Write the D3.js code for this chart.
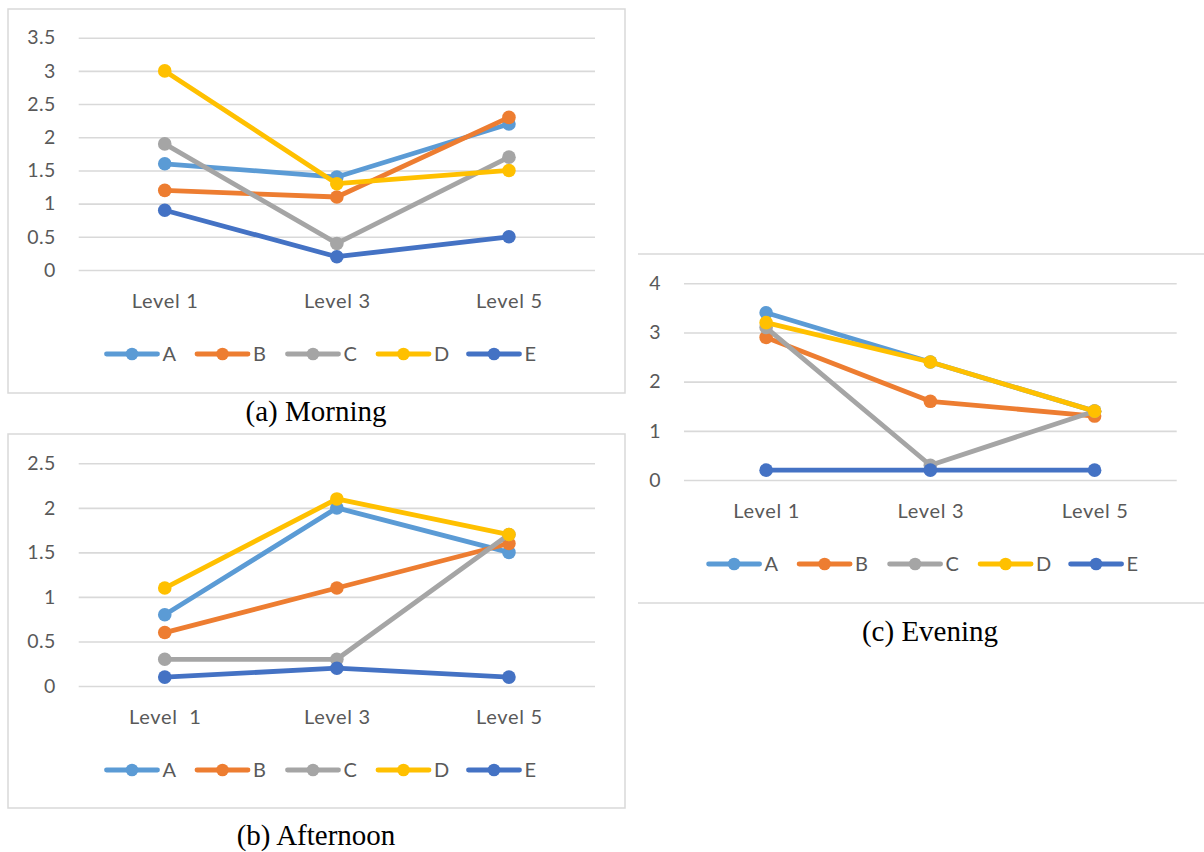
<!DOCTYPE html>
<html>
<head>
<meta charset="utf-8">
<script src="https://cdn.jsdelivr.net/npm/d3@7"></script>
<style>
  html, body { margin: 0; padding: 0; background: #fff; }
  svg { display: block; }
  .tick text { fill: #595959; font-family: Lato, "Open Sans", sans-serif; }
</style>
</head>
<body>
<svg id="chart" width="1204" height="852"></svg>
<script>
// Shared categories and series
const categories = ["Level 1", "Level 3", "Level 5"];
const afternoonLabels = ["Level  1", "Level 3", "Level 5"];
const seriesNames = ["A", "B", "C", "D", "E"];
const seriesColors = ["#5B9BD5", "#ED7D31", "#A5A5A5", "#FFC000", "#4472C4"];

// Morning values per series (Level 1, Level 3, Level 5)
const morningA = [1.6, 1.4, 2.2];
const morningB = [1.2, 1.1, 2.3];
const morningC = [1.9, 0.4, 1.7];
const morningD = [3.0, 1.3, 1.5];
const morningE = [0.9, 0.2, 0.5];
const morningTicks = [0, 0.5, 1, 1.5, 2, 2.5, 3, 3.5];

// Afternoon values
const afternoonA = [0.8, 2.0, 1.5];
const afternoonB = [0.6, 1.1, 1.6];
const afternoonC = [0.3, 0.3, 1.7];
const afternoonD = [1.1, 2.1, 1.7];
const afternoonE = [0.1, 0.2, 0.1];
const afternoonTicks = [0, 0.5, 1, 1.5, 2, 2.5];

// Evening values
const eveningA = [3.4, 2.4, 1.4];
const eveningB = [2.9, 1.6, 1.3];
const eveningC = [3.1, 0.3, 1.4];
const eveningD = [3.2, 2.4, 1.4];
const eveningE = [0.2, 0.2, 0.2];
const eveningTicks = [0, 1, 2, 3, 4];

const svg = d3.select("#chart");
const FONT = "Lato, 'Open Sans', sans-serif";

function drawPanel(opt) {
  const g = svg.append("g");

  const x = d3.scalePoint().domain(categories).range([opt.left, opt.right]).padding(0.5);
  const y = d3.scaleLinear().domain([0, d3.max(opt.ticks)]).range([opt.bottom, opt.top]);

  // horizontal gridlines with value labels
  const yAxis = g.append("g")
    .attr("transform", `translate(${opt.left},0)`)
    .call(d3.axisLeft(y).tickValues(opt.ticks).tickSize(-(opt.right - opt.left)).tickPadding(23).tickFormat(d3.format("~g")));
  yAxis.select(".domain").remove();
  yAxis.selectAll(".tick line").attr("stroke", "#d9d9d9").attr("stroke-width", 1.6);
  yAxis.selectAll(".tick text").attr("font-size", 19.5).attr("letter-spacing", 0.4);

  // category labels
  const xAxis = g.append("g")
    .attr("transform", `translate(0,${opt.bottom})`)
    .call(d3.axisBottom(x).tickSize(0).tickPadding(24).tickFormat((d, i) => opt.labels[i]));
  xAxis.select(".domain").remove();
  xAxis.selectAll(".tick text").attr("font-size", 20).attr("letter-spacing", 0.7).style("white-space", "pre").attr("xml:space", "preserve");

  // series lines and markers
  const line = d3.line().x((d, i) => x(categories[i])).y(d => y(d));
  opt.series.forEach((vals, si) => {
    const col = seriesColors[si];
    g.append("path")
      .datum(vals)
      .attr("d", line)
      .attr("fill", "none")
      .attr("stroke", col)
      .attr("stroke-width", 4.8)
      .attr("stroke-linejoin", "round");
    g.selectAll(null)
      .data(vals)
      .enter().append("circle")
      .attr("cx", (d, i) => x(categories[i]))
      .attr("cy", d => y(d))
      .attr("r", 6.8)
      .attr("fill", col);
  });

  // legend
  const lg = g.append("g").attr("transform", `translate(${opt.legendX},${opt.legendY})`);
  seriesNames.forEach((name, i) => {
    const item = lg.append("g").attr("transform", `translate(${i * 90.5},0)`);
    item.append("line")
      .attr("x1", 2).attr("x2", 53).attr("y1", 0).attr("y2", 0)
      .attr("stroke", seriesColors[i]).attr("stroke-width", 4.8).attr("stroke-linecap", "round");
    item.append("circle").attr("cx", 27.5).attr("cy", 0).attr("r", 6.3).attr("fill", seriesColors[i]);
    item.append("text")
      .attr("x", 58).attr("y", 0).attr("dy", "0.35em")
      .attr("font-family", FONT).attr("font-size", 20).attr("fill", "#595959")
      .text(name);
  });

  // caption
  svg.append("text")
    .attr("x", opt.captionX).attr("y", opt.captionY)
    .attr("text-anchor", "middle")
    .attr("font-family", "'Liberation Serif', 'Times New Roman', serif")
    .attr("font-size", 29).attr("fill", "#000")
    .text(opt.caption);
}

// frames
svg.append("rect").attr("x", 8).attr("y", 9).attr("width", 617).attr("height", 384)
  .attr("fill", "none").attr("stroke", "#d9d9d9").attr("stroke-width", 1.5);
svg.append("rect").attr("x", 8).attr("y", 434).attr("width", 617).attr("height", 374)
  .attr("fill", "none").attr("stroke", "#d9d9d9").attr("stroke-width", 1.5);
svg.append("line").attr("x1", 638).attr("x2", 1204).attr("y1", 254).attr("y2", 254)
  .attr("stroke", "#d9d9d9").attr("stroke-width", 1.5);
svg.append("line").attr("x1", 638).attr("x2", 1204).attr("y1", 603).attr("y2", 603)
  .attr("stroke", "#d9d9d9").attr("stroke-width", 1.5);

drawPanel({
  left: 78.7, right: 595, top: 37.7, bottom: 270,
  ticks: morningTicks, labels: categories,
  series: [morningA, morningB, morningC, morningD, morningE],
  legendX: 104.5, legendY: 354,
  caption: "(a) Morning", captionX: 316, captionY: 421
});

drawPanel({
  left: 78.7, right: 595, top: 463.3, bottom: 686,
  ticks: afternoonTicks, labels: afternoonLabels,
  series: [afternoonA, afternoonB, afternoonC, afternoonD, afternoonE],
  legendX: 104.5, legendY: 770,
  caption: "(b) Afternoon", captionX: 316, captionY: 845
});

drawPanel({
  left: 684, right: 1176.7, top: 283.3, bottom: 480,
  ticks: eveningTicks, labels: categories,
  series: [eveningA, eveningB, eveningC, eveningD, eveningE],
  legendX: 706.6, legendY: 564,
  caption: "(c) Evening", captionX: 930, captionY: 641
});
</script>
</body>
</html>
